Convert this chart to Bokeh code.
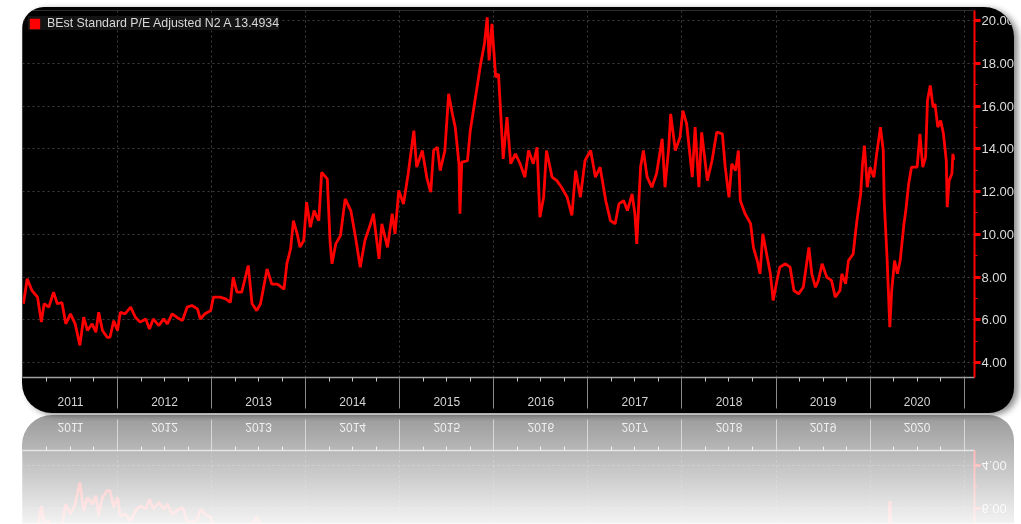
from bokeh.plotting import figure
from bokeh.models import Range1d, FixedTicker, NumeralTickFormatter, Legend, LegendItem
from bokeh.layouts import column
from bokeh.embed import file_html
from bokeh.resources import INLINE

# ---------------- data ----------------
dates = [
    2011.00, 2011.04, 2011.09, 2011.15, 2011.19, 2011.22, 2011.27, 2011.32, 2011.36, 2011.41,
    2011.45, 2011.50, 2011.55, 2011.60, 2011.64, 2011.68, 2011.73, 2011.77, 2011.80, 2011.84,
    2011.89, 2011.92, 2011.96,
    2012.00, 2012.03, 2012.08, 2012.14, 2012.19, 2012.24, 2012.30, 2012.34, 2012.38, 2012.44,
    2012.49, 2012.53, 2012.58, 2012.63, 2012.69, 2012.74, 2012.79, 2012.85, 2012.88, 2012.93,
    2012.99,
    2013.02, 2013.09, 2013.15, 2013.20, 2013.23, 2013.27, 2013.32, 2013.39, 2013.43, 2013.48,
    2013.52, 2013.59, 2013.64, 2013.70, 2013.77, 2013.80, 2013.84, 2013.87, 2013.91, 2013.94,
    2013.98,
    2014.01, 2014.05, 2014.09, 2014.12, 2014.14, 2014.17, 2014.23, 2014.26, 2014.28, 2014.32,
    2014.37, 2014.42, 2014.48, 2014.53, 2014.58, 2014.63, 2014.69, 2014.72, 2014.78, 2014.81,
    2014.87, 2014.92, 2014.95, 2014.99,
    2015.04, 2015.09, 2015.15, 2015.18, 2015.24, 2015.29, 2015.33, 2015.36, 2015.40, 2015.43,
    2015.48, 2015.52, 2015.56, 2015.59, 2015.63, 2015.64, 2015.66, 2015.72, 2015.75, 2015.80,
    2015.86, 2015.90, 2015.93, 2015.95, 2015.98,
    2016.02, 2016.05, 2016.07, 2016.10, 2016.14, 2016.18, 2016.23, 2016.28, 2016.33, 2016.37,
    2016.42, 2016.46, 2016.49, 2016.53, 2016.56, 2016.62, 2016.67, 2016.72, 2016.78, 2016.83,
    2016.87, 2016.92, 2016.97,
    2017.03, 2017.08, 2017.13, 2017.19, 2017.24, 2017.29, 2017.33, 2017.38, 2017.42, 2017.47,
    2017.50, 2017.52, 2017.56, 2017.59, 2017.63, 2017.68, 2017.73, 2017.79, 2017.82, 2017.86,
    2017.88, 2017.93, 2017.98,
    2018.01, 2018.05, 2018.11, 2018.14, 2018.18, 2018.21, 2018.27, 2018.32, 2018.37, 2018.43,
    2018.46, 2018.50, 2018.53, 2018.57, 2018.60, 2018.62, 2018.67, 2018.73, 2018.76, 2018.80,
    2018.83, 2018.86, 2018.90, 2018.94, 2018.97,
    2019.01, 2019.04, 2019.10, 2019.15, 2019.19, 2019.24, 2019.29, 2019.32, 2019.35, 2019.38,
    2019.42, 2019.45, 2019.49, 2019.54, 2019.59, 2019.63, 2019.68, 2019.70, 2019.74, 2019.77,
    2019.82, 2019.86, 2019.90, 2019.92, 2019.94, 2019.97,
    2020.00, 2020.04, 2020.07, 2020.11, 2020.14, 2020.15, 2020.18, 2020.21, 2020.23, 2020.26,
    2020.29, 2020.32, 2020.36, 2020.38, 2020.41, 2020.44, 2020.50, 2020.53, 2020.56, 2020.59,
    2020.61, 2020.64, 2020.67, 2020.69, 2020.72, 2020.75, 2020.78, 2020.81, 2020.82, 2020.84,
    2020.87, 2020.88, 2020.89,
]

pe = [
    6.75, 7.92, 7.37, 7.06, 5.89, 6.75, 6.59, 7.29, 6.75, 6.80,
    5.81, 6.28, 5.81, 4.80, 6.12, 5.50, 5.81, 5.42, 6.35, 5.50,
    5.18, 5.18, 5.96,
    5.50, 6.35, 6.28, 6.59, 6.12, 5.89, 6.04, 5.57, 6.04, 5.73,
    6.04, 5.81, 6.28, 6.12, 5.96, 6.59, 6.67, 6.51, 6.04, 6.28,
    6.43,
    7.06, 7.06, 6.98, 6.82, 7.99, 7.29, 7.29, 8.54, 6.75, 6.43,
    6.75, 8.38, 7.67, 7.67, 7.43, 8.62, 9.32, 10.64, 10.02, 9.40,
    9.71,
    11.50, 10.33, 11.11, 10.80, 10.64, 12.90, 12.59, 9.63, 8.62, 9.55,
    9.94, 11.66, 11.11, 9.86, 8.46, 9.71, 10.49, 10.96, 8.85, 10.49,
    9.39, 10.96, 10.02, 12.05,
    11.42, 12.83, 14.85, 13.14, 13.92, 12.60, 11.97, 13.92, 14.07, 12.98,
    13.92, 16.57, 15.63, 15.01, 13.30, 10.96, 13.38, 13.45, 14.85, 16.26,
    17.97, 18.90, 20.15, 18.13, 19.84,
    17.35, 17.50, 15.94, 13.53, 15.48, 13.30, 13.76, 13.30, 12.67, 13.92,
    13.30, 14.07, 10.80, 11.73, 13.92, 12.67, 12.51, 12.20, 11.73, 10.88,
    12.98, 11.73, 13.45,
    13.92, 12.67, 13.14, 11.57, 10.64, 10.49, 11.42, 11.58, 11.11, 11.89,
    10.96, 9.55, 13.14, 13.92, 12.67, 12.20, 12.83, 14.47, 12.20, 14.07,
    15.63, 13.92, 14.55,
    15.79, 15.17, 12.67, 15.01, 12.20, 14.77, 12.51, 13.45, 14.78, 14.70,
    13.14, 11.73, 13.30, 12.98, 13.92, 11.58, 10.97, 10.50, 9.39, 8.77,
    8.15, 10.02, 9.08, 8.15, 6.90,
    7.84, 8.46, 8.62, 8.46, 7.37, 7.21, 7.52, 8.46, 9.39, 8.15,
    7.52, 7.84, 8.62, 7.99, 7.84, 7.06, 7.37, 8.15, 7.68, 8.77,
    9.08, 10.64, 11.89, 13.30, 14.15, 12.20,
    13.14, 12.67, 13.76, 15.01, 13.92, 11.58, 8.93, 5.65, 7.37, 8.77,
    8.15, 8.77, 10.49, 11.11, 12.36, 13.14, 13.14, 14.70, 13.14, 13.60,
    16.26, 16.96, 15.94, 16.10, 15.01, 15.32, 14.70, 13.45, 11.27, 12.51,
    12.83, 13.76, 13.49,
]

years = [2011, 2012, 2013, 2014, 2015, 2016, 2017, 2018, 2019, 2020]
year_labels = ["2011", "2012", "2013", "2014", "2015", "2016", "2017", "2018", "2019", "2020"]
y_ticks = [4, 6, 8, 10, 12, 14, 16, 18, 20]
y_minor = [3, 5, 7, 9, 11, 13, 15, 17, 19, 21]
series_name = "BEst Standard P/E Adjusted N2 A 13.4934"

# ---------------- layout constants ----------------
W = 1021
PX_PER_UNIT = 21.375
Y_LO = 3.30
X_LO, X_HI = 2010.99, 2021.11
FONT = "Liberation Sans"

quarter_ticks = [y + q for y in years for q in (0.25, 0.5, 0.75)]
quarter_labels = {}
for y, lab in zip(years, year_labels):
    quarter_labels[y + 0.25] = ""
    quarter_labels[y + 0.5] = lab
    quarter_labels[y + 0.75] = ""
boundary_ticks = years[1:] + [years[-1] + 1]


def build(height, top_border, bottom_border, with_legend, styles):
    frame_h = height - top_border - bottom_border
    y_hi = Y_LO + frame_h / PX_PER_UNIT
    p = figure(width=W, height=height, x_range=Range1d(X_LO, X_HI), y_range=Range1d(Y_LO, y_hi),
               y_axis_location="right", output_backend="svg", toolbar_location=None,
               min_border_left=22, min_border_right=47, min_border_top=top_border,
               min_border_bottom=bottom_border, background_fill_color="black",
               border_fill_color="black", outline_line_color=None, title=None,
               styles=styles)

    # grids
    p.xgrid.ticker = FixedTicker(ticks=boundary_ticks)
    p.ygrid.ticker = FixedTicker(ticks=y_ticks)
    for g in (p.xgrid[0], p.ygrid[0]):
        g.grid_line_color = "#3e3e3e"
        g.grid_line_dash = "2 3"
        g.grid_line_width = 1

    # bottom axis: quarter ticks (label on the middle one), long separators at year boundaries
    xa = p.xaxis[0]
    xa.ticker = FixedTicker(ticks=quarter_ticks, minor_ticks=boundary_ticks)
    xa.major_label_overrides = quarter_labels
    xa.axis_line_color = "#a0a0a0"
    xa.axis_line_width = 1.5
    xa.major_tick_in = 0
    xa.major_tick_out = 4
    xa.major_tick_line_color = "#c8c8c8"
    xa.minor_tick_in = 0
    xa.minor_tick_out = 31
    xa.minor_tick_line_color = "#8a8a8a"
    xa.minor_tick_line_width = 1
    xa.major_label_standoff = -12
    xa.major_label_text_font = FONT
    xa.major_label_text_font_size = "12px"
    xa.major_label_text_color = "#d4d4d4"

    # right value axis
    ya = p.yaxis[0]
    ya.ticker = FixedTicker(ticks=y_ticks, minor_ticks=y_minor)
    ya.formatter = NumeralTickFormatter(format="0.00")
    ya.axis_line_color = "#ff0000"
    ya.axis_line_width = 2
    ya.major_tick_in = 0
    ya.major_tick_out = 6
    ya.major_tick_line_width = 3
    ya.major_tick_line_color = "#ff0000"
    ya.minor_tick_in = 0
    ya.minor_tick_out = 3
    ya.minor_tick_line_color = "#ff0000"
    ya.major_label_standoff = 1
    ya.major_label_text_font = FONT
    ya.major_label_text_font_size = "13px"
    ya.major_label_text_color = "#dcdcdc"

    p.line(dates, pe, line_color="#ff0000", line_width=2.8)

    if with_legend:
        # zero-size swatch anchored on the last observation, used only for the legend key
        key = p.rect(x=dates[-1:], y=pe[-1:], width=0, height=0,
                     fill_color="#ff0000", line_color=None)
        leg = Legend(items=[LegendItem(label=series_name, renderers=[key])],
                     location="top_left", margin=6, padding=4, spacing=0,
                     glyph_width=13, glyph_height=13, label_standoff=6,
                     label_height=13, label_text_font=FONT, label_text_font_size="12.4px",
                     label_text_color="#d8d8d8", background_fill_color="#141414",
                     background_fill_alpha=1.0, border_line_color=None)
        p.add_layout(leg)
    return p


main_styles = {"clip-path": "inset(7px 7px 0px 22px round 22px 30px 25px 30px)"}
main = build(413, 10, 36, True, main_styles)
main_box = column(main, spacing=0,
                  styles={"filter": "drop-shadow(4px 2px 3px rgba(0,0,0,0.45))"})

mask = "linear-gradient(to top, rgba(0,0,0,1) 0%, rgba(0,0,0,0.12) 100%)"
refl_styles = {
    "clip-path": "inset(0px 7px 2px 22px round 0px 0px 25px 30px)",
    "transform": "scaleY(-1)",
    "opacity": "0.40",
    "-webkit-mask-image": mask,
    "mask-image": mask,
}
refl = build(111, 0, 38, False, refl_styles)

layout = column(main_box, refl, spacing=0)
open("out.html", "w").write(file_html(layout, INLINE))
